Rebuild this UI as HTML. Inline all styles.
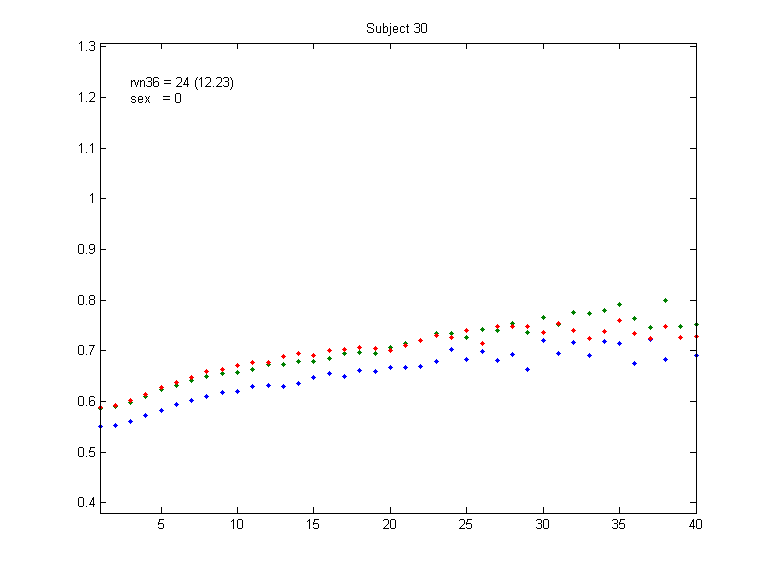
<!DOCTYPE html>
<html lang="en"><head><meta charset="utf-8"><title>Subject 30</title>
<style>
html,body{margin:0;padding:0;background:#fff;}
body{width:769px;height:576px;position:relative;overflow:hidden;font-family:"Liberation Sans",sans-serif;font-size:13px;line-height:16px;color:transparent;}
svg{position:absolute;left:0;top:0;display:block;}
.yl{position:absolute;left:40px;width:56px;text-align:right;height:16px;}
.xl{position:absolute;top:516px;width:41px;text-align:center;height:16px;}
.t{position:absolute;white-space:pre;height:16px;}
</style></head><body>
<svg width="769" height="576" viewBox="0 0 769 576" shape-rendering="crispEdges" aria-hidden="true">
<rect width="769" height="576" fill="#fff"/>
<path fill="#0000ff" d="M100 424h1v1h1v1h1v1h-1v1h-1v1h-1v-1h-1v-1h-1v-1h1v-1h1zM115 423h1v1h1v1h1v1h-1v1h-1v1h-1v-1h-1v-1h-1v-1h1v-1h1zM130 419h1v1h1v1h1v1h-1v1h-1v1h-1v-1h-1v-1h-1v-1h1v-1h1zM145 413h1v1h1v1h1v1h-1v1h-1v1h-1v-1h-1v-1h-1v-1h1v-1h1zM161 408h1v1h1v1h1v1h-1v1h-1v1h-1v-1h-1v-1h-1v-1h1v-1h1zM176 402h1v1h1v1h1v1h-1v1h-1v1h-1v-1h-1v-1h-1v-1h1v-1h1zM191 398h1v1h1v1h1v1h-1v1h-1v1h-1v-1h-1v-1h-1v-1h1v-1h1zM206 394h1v1h1v1h1v1h-1v1h-1v1h-1v-1h-1v-1h-1v-1h1v-1h1zM222 390h1v1h1v1h1v1h-1v1h-1v1h-1v-1h-1v-1h-1v-1h1v-1h1zM237 389h1v1h1v1h1v1h-1v1h-1v1h-1v-1h-1v-1h-1v-1h1v-1h1zM252 384h1v1h1v1h1v1h-1v1h-1v1h-1v-1h-1v-1h-1v-1h1v-1h1zM268 383h1v1h1v1h1v1h-1v1h-1v1h-1v-1h-1v-1h-1v-1h1v-1h1zM283 384h1v1h1v1h1v1h-1v1h-1v1h-1v-1h-1v-1h-1v-1h1v-1h1zM298 381h1v1h1v1h1v1h-1v1h-1v1h-1v-1h-1v-1h-1v-1h1v-1h1zM313 375h1v1h1v1h1v1h-1v1h-1v1h-1v-1h-1v-1h-1v-1h1v-1h1zM329 371h1v1h1v1h1v1h-1v1h-1v1h-1v-1h-1v-1h-1v-1h1v-1h1zM344 374h1v1h1v1h1v1h-1v1h-1v1h-1v-1h-1v-1h-1v-1h1v-1h1zM359 368h1v1h1v1h1v1h-1v1h-1v1h-1v-1h-1v-1h-1v-1h1v-1h1zM375 369h1v1h1v1h1v1h-1v1h-1v1h-1v-1h-1v-1h-1v-1h1v-1h1zM390 365h1v1h1v1h1v1h-1v1h-1v1h-1v-1h-1v-1h-1v-1h1v-1h1zM405 365h1v1h1v1h1v1h-1v1h-1v1h-1v-1h-1v-1h-1v-1h1v-1h1zM420 364h1v1h1v1h1v1h-1v1h-1v1h-1v-1h-1v-1h-1v-1h1v-1h1zM436 359h1v1h1v1h1v1h-1v1h-1v1h-1v-1h-1v-1h-1v-1h1v-1h1zM451 347h1v1h1v1h1v1h-1v1h-1v1h-1v-1h-1v-1h-1v-1h1v-1h1zM466 357h1v1h1v1h1v1h-1v1h-1v1h-1v-1h-1v-1h-1v-1h1v-1h1zM482 349h1v1h1v1h1v1h-1v1h-1v1h-1v-1h-1v-1h-1v-1h1v-1h1zM497 358h1v1h1v1h1v1h-1v1h-1v1h-1v-1h-1v-1h-1v-1h1v-1h1zM512 352h1v1h1v1h1v1h-1v1h-1v1h-1v-1h-1v-1h-1v-1h1v-1h1zM527 367h1v1h1v1h1v1h-1v1h-1v1h-1v-1h-1v-1h-1v-1h1v-1h1zM543 338h1v1h1v1h1v1h-1v1h-1v1h-1v-1h-1v-1h-1v-1h1v-1h1zM558 351h1v1h1v1h1v1h-1v1h-1v1h-1v-1h-1v-1h-1v-1h1v-1h1zM573 340h1v1h1v1h1v1h-1v1h-1v1h-1v-1h-1v-1h-1v-1h1v-1h1zM589 353h1v1h1v1h1v1h-1v1h-1v1h-1v-1h-1v-1h-1v-1h1v-1h1zM604 339h1v1h1v1h1v1h-1v1h-1v1h-1v-1h-1v-1h-1v-1h1v-1h1zM619 341h1v1h1v1h1v1h-1v1h-1v1h-1v-1h-1v-1h-1v-1h1v-1h1zM634 361h1v1h1v1h1v1h-1v1h-1v1h-1v-1h-1v-1h-1v-1h1v-1h1zM650 337h1v1h1v1h1v1h-1v1h-1v1h-1v-1h-1v-1h-1v-1h1v-1h1zM665 357h1v1h1v1h1v1h-1v1h-1v1h-1v-1h-1v-1h-1v-1h1v-1h1zM680 335h1v1h1v1h1v1h-1v1h-1v1h-1v-1h-1v-1h-1v-1h1v-1h1zM696 353h1v1h1v1h1v1h-1v1h-1v1h-1v-1h-1v-1h-1v-1h1v-1h1z"/>
<path fill="#008000" d="M100 406h1v1h1v1h1v1h-1v1h-1v1h-1v-1h-1v-1h-1v-1h1v-1h1zM115 404h1v1h1v1h1v1h-1v1h-1v1h-1v-1h-1v-1h-1v-1h1v-1h1zM130 400h1v1h1v1h1v1h-1v1h-1v1h-1v-1h-1v-1h-1v-1h1v-1h1zM145 394h1v1h1v1h1v1h-1v1h-1v1h-1v-1h-1v-1h-1v-1h1v-1h1zM161 387h1v1h1v1h1v1h-1v1h-1v1h-1v-1h-1v-1h-1v-1h1v-1h1zM176 383h1v1h1v1h1v1h-1v1h-1v1h-1v-1h-1v-1h-1v-1h1v-1h1zM191 378h1v1h1v1h1v1h-1v1h-1v1h-1v-1h-1v-1h-1v-1h1v-1h1zM206 374h1v1h1v1h1v1h-1v1h-1v1h-1v-1h-1v-1h-1v-1h1v-1h1zM222 371h1v1h1v1h1v1h-1v1h-1v1h-1v-1h-1v-1h-1v-1h1v-1h1zM237 370h1v1h1v1h1v1h-1v1h-1v1h-1v-1h-1v-1h-1v-1h1v-1h1zM252 367h1v1h1v1h1v1h-1v1h-1v1h-1v-1h-1v-1h-1v-1h1v-1h1zM268 362h1v1h1v1h1v1h-1v1h-1v1h-1v-1h-1v-1h-1v-1h1v-1h1zM283 362h1v1h1v1h1v1h-1v1h-1v1h-1v-1h-1v-1h-1v-1h1v-1h1zM298 359h1v1h1v1h1v1h-1v1h-1v1h-1v-1h-1v-1h-1v-1h1v-1h1zM313 359h1v1h1v1h1v1h-1v1h-1v1h-1v-1h-1v-1h-1v-1h1v-1h1zM329 356h1v1h1v1h1v1h-1v1h-1v1h-1v-1h-1v-1h-1v-1h1v-1h1zM344 351h1v1h1v1h1v1h-1v1h-1v1h-1v-1h-1v-1h-1v-1h1v-1h1zM359 350h1v1h1v1h1v1h-1v1h-1v1h-1v-1h-1v-1h-1v-1h1v-1h1zM375 351h1v1h1v1h1v1h-1v1h-1v1h-1v-1h-1v-1h-1v-1h1v-1h1zM390 345h1v1h1v1h1v1h-1v1h-1v1h-1v-1h-1v-1h-1v-1h1v-1h1zM405 341h1v1h1v1h1v1h-1v1h-1v1h-1v-1h-1v-1h-1v-1h1v-1h1zM420 338h1v1h1v1h1v1h-1v1h-1v1h-1v-1h-1v-1h-1v-1h1v-1h1zM436 331h1v1h1v1h1v1h-1v1h-1v1h-1v-1h-1v-1h-1v-1h1v-1h1zM451 331h1v1h1v1h1v1h-1v1h-1v1h-1v-1h-1v-1h-1v-1h1v-1h1zM466 335h1v1h1v1h1v1h-1v1h-1v1h-1v-1h-1v-1h-1v-1h1v-1h1zM482 327h1v1h1v1h1v1h-1v1h-1v1h-1v-1h-1v-1h-1v-1h1v-1h1zM497 328h1v1h1v1h1v1h-1v1h-1v1h-1v-1h-1v-1h-1v-1h1v-1h1zM512 321h1v1h1v1h1v1h-1v1h-1v1h-1v-1h-1v-1h-1v-1h1v-1h1zM527 330h1v1h1v1h1v1h-1v1h-1v1h-1v-1h-1v-1h-1v-1h1v-1h1zM543 315h1v1h1v1h1v1h-1v1h-1v1h-1v-1h-1v-1h-1v-1h1v-1h1zM558 322h1v1h1v1h1v1h-1v1h-1v1h-1v-1h-1v-1h-1v-1h1v-1h1zM573 310h1v1h1v1h1v1h-1v1h-1v1h-1v-1h-1v-1h-1v-1h1v-1h1zM589 311h1v1h1v1h1v1h-1v1h-1v1h-1v-1h-1v-1h-1v-1h1v-1h1zM604 308h1v1h1v1h1v1h-1v1h-1v1h-1v-1h-1v-1h-1v-1h1v-1h1zM619 302h1v1h1v1h1v1h-1v1h-1v1h-1v-1h-1v-1h-1v-1h1v-1h1zM634 316h1v1h1v1h1v1h-1v1h-1v1h-1v-1h-1v-1h-1v-1h1v-1h1zM650 325h1v1h1v1h1v1h-1v1h-1v1h-1v-1h-1v-1h-1v-1h1v-1h1zM665 298h1v1h1v1h1v1h-1v1h-1v1h-1v-1h-1v-1h-1v-1h1v-1h1zM680 324h1v1h1v1h1v1h-1v1h-1v1h-1v-1h-1v-1h-1v-1h1v-1h1zM696 322h1v1h1v1h1v1h-1v1h-1v1h-1v-1h-1v-1h-1v-1h1v-1h1z"/>
<path fill="#ff0000" d="M100 405h1v1h1v1h1v1h-1v1h-1v1h-1v-1h-1v-1h-1v-1h1v-1h1zM115 403h1v1h1v1h1v1h-1v1h-1v1h-1v-1h-1v-1h-1v-1h1v-1h1zM130 398h1v1h1v1h1v1h-1v1h-1v1h-1v-1h-1v-1h-1v-1h1v-1h1zM145 392h1v1h1v1h1v1h-1v1h-1v1h-1v-1h-1v-1h-1v-1h1v-1h1zM161 385h1v1h1v1h1v1h-1v1h-1v1h-1v-1h-1v-1h-1v-1h1v-1h1zM176 380h1v1h1v1h1v1h-1v1h-1v1h-1v-1h-1v-1h-1v-1h1v-1h1zM191 375h1v1h1v1h1v1h-1v1h-1v1h-1v-1h-1v-1h-1v-1h1v-1h1zM206 369h1v1h1v1h1v1h-1v1h-1v1h-1v-1h-1v-1h-1v-1h1v-1h1zM222 367h1v1h1v1h1v1h-1v1h-1v1h-1v-1h-1v-1h-1v-1h1v-1h1zM237 363h1v1h1v1h1v1h-1v1h-1v1h-1v-1h-1v-1h-1v-1h1v-1h1zM252 360h1v1h1v1h1v1h-1v1h-1v1h-1v-1h-1v-1h-1v-1h1v-1h1zM268 360h1v1h1v1h1v1h-1v1h-1v1h-1v-1h-1v-1h-1v-1h1v-1h1zM283 354h1v1h1v1h1v1h-1v1h-1v1h-1v-1h-1v-1h-1v-1h1v-1h1zM298 351h1v1h1v1h1v1h-1v1h-1v1h-1v-1h-1v-1h-1v-1h1v-1h1zM313 353h1v1h1v1h1v1h-1v1h-1v1h-1v-1h-1v-1h-1v-1h1v-1h1zM329 348h1v1h1v1h1v1h-1v1h-1v1h-1v-1h-1v-1h-1v-1h1v-1h1zM344 347h1v1h1v1h1v1h-1v1h-1v1h-1v-1h-1v-1h-1v-1h1v-1h1zM359 345h1v1h1v1h1v1h-1v1h-1v1h-1v-1h-1v-1h-1v-1h1v-1h1zM375 346h1v1h1v1h1v1h-1v1h-1v1h-1v-1h-1v-1h-1v-1h1v-1h1zM390 348h1v1h1v1h1v1h-1v1h-1v1h-1v-1h-1v-1h-1v-1h1v-1h1zM405 343h1v1h1v1h1v1h-1v1h-1v1h-1v-1h-1v-1h-1v-1h1v-1h1zM420 338h1v1h1v1h1v1h-1v1h-1v1h-1v-1h-1v-1h-1v-1h1v-1h1zM436 333h1v1h1v1h1v1h-1v1h-1v1h-1v-1h-1v-1h-1v-1h1v-1h1zM451 335h1v1h1v1h1v1h-1v1h-1v1h-1v-1h-1v-1h-1v-1h1v-1h1zM466 328h1v1h1v1h1v1h-1v1h-1v1h-1v-1h-1v-1h-1v-1h1v-1h1zM482 341h1v1h1v1h1v1h-1v1h-1v1h-1v-1h-1v-1h-1v-1h1v-1h1zM497 324h1v1h1v1h1v1h-1v1h-1v1h-1v-1h-1v-1h-1v-1h1v-1h1zM512 324h1v1h1v1h1v1h-1v1h-1v1h-1v-1h-1v-1h-1v-1h1v-1h1zM527 324h1v1h1v1h1v1h-1v1h-1v1h-1v-1h-1v-1h-1v-1h1v-1h1zM543 330h1v1h1v1h1v1h-1v1h-1v1h-1v-1h-1v-1h-1v-1h1v-1h1zM558 321h1v1h1v1h1v1h-1v1h-1v1h-1v-1h-1v-1h-1v-1h1v-1h1zM573 328h1v1h1v1h1v1h-1v1h-1v1h-1v-1h-1v-1h-1v-1h1v-1h1zM589 336h1v1h1v1h1v1h-1v1h-1v1h-1v-1h-1v-1h-1v-1h1v-1h1zM604 329h1v1h1v1h1v1h-1v1h-1v1h-1v-1h-1v-1h-1v-1h1v-1h1zM619 318h1v1h1v1h1v1h-1v1h-1v1h-1v-1h-1v-1h-1v-1h1v-1h1zM634 331h1v1h1v1h1v1h-1v1h-1v1h-1v-1h-1v-1h-1v-1h1v-1h1zM650 336h1v1h1v1h1v1h-1v1h-1v1h-1v-1h-1v-1h-1v-1h1v-1h1zM665 324h1v1h1v1h1v1h-1v1h-1v1h-1v-1h-1v-1h-1v-1h1v-1h1zM680 335h1v1h1v1h1v1h-1v1h-1v1h-1v-1h-1v-1h-1v-1h1v-1h1zM696 334h1v1h1v1h1v1h-1v1h-1v1h-1v-1h-1v-1h-1v-1h1v-1h1z"/>
<path fill="#000" d="M100 43h597v1h-597zM100 513h597v1h-597zM100 43h1v471h-1zM696 43h1v471h-1zM101 46h5v1h-5zM690 46h6v1h-6zM101 97h5v1h-5zM690 97h6v1h-6zM101 148h5v1h-5zM690 148h6v1h-6zM101 198h5v1h-5zM690 198h6v1h-6zM101 249h5v1h-5zM690 249h6v1h-6zM101 300h5v1h-5zM690 300h6v1h-6zM101 350h5v1h-5zM690 350h6v1h-6zM101 401h5v1h-5zM690 401h6v1h-6zM101 452h5v1h-5zM690 452h6v1h-6zM101 502h5v1h-5zM690 502h6v1h-6zM161 507h1v6h-1zM161 44h1v5h-1zM237 507h1v6h-1zM237 44h1v5h-1zM313 507h1v6h-1zM313 44h1v5h-1zM390 507h1v6h-1zM390 44h1v5h-1zM466 507h1v6h-1zM466 44h1v5h-1zM543 507h1v6h-1zM543 44h1v5h-1zM619 507h1v6h-1zM619 44h1v5h-1z"/>
<path fill="#000" d="M368 23h5v1h-5zM367 24h1v1h-1zM373 24h1v1h-1zM367 25h1v1h-1zM373 25h1v1h-1zM367 26h1v1h-1zM368 27h3v1h-3zM371 28h2v1h-2zM373 29h1v1h-1zM367 30h1v1h-1zM373 30h1v1h-1zM367 31h1v1h-1zM373 31h1v1h-1zM368 32h5v1h-5zM376 26h1v1h-1zM380 26h1v1h-1zM376 27h1v1h-1zM380 27h1v1h-1zM376 28h1v1h-1zM380 28h1v1h-1zM376 29h1v1h-1zM380 29h1v1h-1zM376 30h1v1h-1zM380 30h1v1h-1zM376 31h1v1h-1zM380 31h1v1h-1zM377 32h4v1h-4zM383 23h1v1h-1zM383 24h1v1h-1zM383 25h1v1h-1zM383 26h1v1h-1zM385 26h2v1h-2zM383 27h2v1h-2zM387 27h1v1h-1zM383 28h1v1h-1zM387 28h1v1h-1zM383 29h1v1h-1zM387 29h1v1h-1zM383 30h1v1h-1zM387 30h1v1h-1zM383 31h1v1h-1zM387 31h1v1h-1zM383 32h4v1h-4zM390 23h1v1h-1zM390 26h1v1h-1zM390 27h1v1h-1zM390 28h1v1h-1zM390 29h1v1h-1zM390 30h1v1h-1zM390 31h1v1h-1zM390 32h1v1h-1zM390 33h1v1h-1zM390 34h1v1h-1zM388 35h2v1h-2zM394 26h3v1h-3zM393 27h1v1h-1zM397 27h1v1h-1zM393 28h1v1h-1zM397 28h1v1h-1zM393 29h5v1h-5zM393 30h1v1h-1zM393 31h1v1h-1zM397 31h1v1h-1zM394 32h3v1h-3zM401 26h3v1h-3zM400 27h1v1h-1zM404 27h1v1h-1zM400 28h1v1h-1zM400 29h1v1h-1zM400 30h1v1h-1zM400 31h1v1h-1zM404 31h1v1h-1zM401 32h3v1h-3zM407 24h1v1h-1zM407 25h1v1h-1zM406 26h3v1h-3zM407 27h1v1h-1zM407 28h1v1h-1zM407 29h1v1h-1zM407 30h1v1h-1zM407 31h1v1h-1zM407 32h2v1h-2zM415 23h4v1h-4zM414 24h1v1h-1zM419 24h1v1h-1zM419 25h1v1h-1zM419 26h1v1h-1zM416 27h3v1h-3zM419 28h1v1h-1zM419 29h1v1h-1zM419 30h1v1h-1zM414 31h1v1h-1zM419 31h1v1h-1zM415 32h4v1h-4zM422 23h4v1h-4zM421 24h1v1h-1zM426 24h1v1h-1zM421 25h1v1h-1zM426 25h1v1h-1zM421 26h1v1h-1zM426 26h1v1h-1zM421 27h1v1h-1zM426 27h1v1h-1zM421 28h1v1h-1zM426 28h1v1h-1zM421 29h1v1h-1zM426 29h1v1h-1zM421 30h1v1h-1zM426 30h1v1h-1zM421 31h1v1h-1zM426 31h1v1h-1zM422 32h4v1h-4zM131 80h1v1h-1zM133 80h1v1h-1zM131 81h2v1h-2zM131 82h1v1h-1zM131 83h1v1h-1zM131 84h1v1h-1zM131 85h1v1h-1zM131 86h1v1h-1zM134 80h1v1h-1zM138 80h1v1h-1zM134 81h1v1h-1zM138 81h1v1h-1zM135 82h1v1h-1zM137 82h1v1h-1zM135 83h1v1h-1zM137 83h1v1h-1zM135 84h1v1h-1zM137 84h1v1h-1zM136 85h1v1h-1zM136 86h1v1h-1zM140 80h1v1h-1zM142 80h2v1h-2zM140 81h2v1h-2zM144 81h1v1h-1zM140 82h1v1h-1zM144 82h1v1h-1zM140 83h1v1h-1zM144 83h1v1h-1zM140 84h1v1h-1zM144 84h1v1h-1zM140 85h1v1h-1zM144 85h1v1h-1zM140 86h1v1h-1zM144 86h1v1h-1zM147 77h4v1h-4zM146 78h1v1h-1zM151 78h1v1h-1zM151 79h1v1h-1zM151 80h1v1h-1zM148 81h3v1h-3zM151 82h1v1h-1zM151 83h1v1h-1zM151 84h1v1h-1zM146 85h1v1h-1zM151 85h1v1h-1zM147 86h4v1h-4zM154 77h4v1h-4zM153 78h1v1h-1zM158 78h1v1h-1zM153 79h1v1h-1zM153 80h1v1h-1zM153 81h1v1h-1zM155 81h3v1h-3zM153 82h2v1h-2zM158 82h1v1h-1zM153 83h1v1h-1zM158 83h1v1h-1zM153 84h1v1h-1zM158 84h1v1h-1zM153 85h1v1h-1zM158 85h1v1h-1zM154 86h4v1h-4zM164 80h7v1h-7zM164 83h7v1h-7zM177 77h4v1h-4zM176 78h1v1h-1zM181 78h1v1h-1zM181 79h1v1h-1zM181 80h1v1h-1zM181 81h1v1h-1zM180 82h1v1h-1zM179 83h1v1h-1zM178 84h1v1h-1zM177 85h1v1h-1zM176 86h6v1h-6zM187 77h1v1h-1zM186 78h2v1h-2zM186 79h2v1h-2zM185 80h1v1h-1zM187 80h1v1h-1zM185 81h1v1h-1zM187 81h1v1h-1zM184 82h1v1h-1zM187 82h1v1h-1zM184 83h1v1h-1zM187 83h1v1h-1zM183 84h6v1h-6zM187 85h1v1h-1zM187 86h1v1h-1zM197 77h1v1h-1zM196 78h1v1h-1zM196 79h1v1h-1zM195 80h1v1h-1zM195 81h1v1h-1zM195 82h1v1h-1zM195 83h1v1h-1zM195 84h1v1h-1zM195 85h1v1h-1zM195 86h1v1h-1zM196 87h1v1h-1zM196 88h1v1h-1zM197 89h1v1h-1zM201 77h1v1h-1zM200 78h2v1h-2zM199 79h1v1h-1zM201 79h1v1h-1zM201 80h1v1h-1zM201 81h1v1h-1zM201 82h1v1h-1zM201 83h1v1h-1zM201 84h1v1h-1zM201 85h1v1h-1zM201 86h1v1h-1zM206 77h4v1h-4zM205 78h1v1h-1zM210 78h1v1h-1zM210 79h1v1h-1zM210 80h1v1h-1zM210 81h1v1h-1zM209 82h1v1h-1zM208 83h1v1h-1zM207 84h1v1h-1zM206 85h1v1h-1zM205 86h6v1h-6zM213 86h1v1h-1zM217 77h4v1h-4zM216 78h1v1h-1zM221 78h1v1h-1zM221 79h1v1h-1zM221 80h1v1h-1zM221 81h1v1h-1zM220 82h1v1h-1zM219 83h1v1h-1zM218 84h1v1h-1zM217 85h1v1h-1zM216 86h6v1h-6zM224 77h4v1h-4zM223 78h1v1h-1zM228 78h1v1h-1zM228 79h1v1h-1zM228 80h1v1h-1zM225 81h3v1h-3zM228 82h1v1h-1zM228 83h1v1h-1zM228 84h1v1h-1zM223 85h1v1h-1zM228 85h1v1h-1zM224 86h4v1h-4zM230 77h1v1h-1zM231 78h1v1h-1zM231 79h1v1h-1zM232 80h1v1h-1zM232 81h1v1h-1zM232 82h1v1h-1zM232 83h1v1h-1zM232 84h1v1h-1zM232 85h1v1h-1zM232 86h1v1h-1zM231 87h1v1h-1zM231 88h1v1h-1zM230 89h1v1h-1zM132 96h3v1h-3zM131 97h1v1h-1zM135 97h1v1h-1zM131 98h1v1h-1zM132 99h3v1h-3zM135 100h1v1h-1zM131 101h1v1h-1zM135 101h1v1h-1zM132 102h3v1h-3zM139 96h3v1h-3zM138 97h1v1h-1zM142 97h1v1h-1zM138 98h1v1h-1zM142 98h1v1h-1zM138 99h5v1h-5zM138 100h1v1h-1zM138 101h1v1h-1zM142 101h1v1h-1zM139 102h3v1h-3zM145 96h1v1h-1zM149 96h1v1h-1zM146 97h1v1h-1zM148 97h1v1h-1zM146 98h1v1h-1zM148 98h1v1h-1zM147 99h1v1h-1zM146 100h1v1h-1zM148 100h1v1h-1zM146 101h1v1h-1zM148 101h1v1h-1zM145 102h1v1h-1zM149 102h1v1h-1zM163 96h7v1h-7zM163 99h7v1h-7zM176 93h4v1h-4zM175 94h1v1h-1zM180 94h1v1h-1zM175 95h1v1h-1zM180 95h1v1h-1zM175 96h1v1h-1zM180 96h1v1h-1zM175 97h1v1h-1zM180 97h1v1h-1zM175 98h1v1h-1zM180 98h1v1h-1zM175 99h1v1h-1zM180 99h1v1h-1zM175 100h1v1h-1zM180 100h1v1h-1zM175 101h1v1h-1zM180 101h1v1h-1zM176 102h4v1h-4zM81 41h1v1h-1zM80 42h2v1h-2zM79 43h1v1h-1zM81 43h1v1h-1zM81 44h1v1h-1zM81 45h1v1h-1zM81 46h1v1h-1zM81 47h1v1h-1zM81 48h1v1h-1zM81 49h1v1h-1zM81 50h1v1h-1zM86 50h1v1h-1zM90 41h4v1h-4zM89 42h1v1h-1zM94 42h1v1h-1zM94 43h1v1h-1zM94 44h1v1h-1zM91 45h3v1h-3zM94 46h1v1h-1zM94 47h1v1h-1zM94 48h1v1h-1zM89 49h1v1h-1zM94 49h1v1h-1zM90 50h4v1h-4zM81 92h1v1h-1zM80 93h2v1h-2zM79 94h1v1h-1zM81 94h1v1h-1zM81 95h1v1h-1zM81 96h1v1h-1zM81 97h1v1h-1zM81 98h1v1h-1zM81 99h1v1h-1zM81 100h1v1h-1zM81 101h1v1h-1zM86 101h1v1h-1zM90 92h4v1h-4zM89 93h1v1h-1zM94 93h1v1h-1zM94 94h1v1h-1zM94 95h1v1h-1zM94 96h1v1h-1zM93 97h1v1h-1zM92 98h1v1h-1zM91 99h1v1h-1zM90 100h1v1h-1zM89 101h6v1h-6zM81 143h1v1h-1zM80 144h2v1h-2zM79 145h1v1h-1zM81 145h1v1h-1zM81 146h1v1h-1zM81 147h1v1h-1zM81 148h1v1h-1zM81 149h1v1h-1zM81 150h1v1h-1zM81 151h1v1h-1zM81 152h1v1h-1zM86 152h1v1h-1zM92 143h1v1h-1zM91 144h2v1h-2zM90 145h1v1h-1zM92 145h1v1h-1zM92 146h1v1h-1zM92 147h1v1h-1zM92 148h1v1h-1zM92 149h1v1h-1zM92 150h1v1h-1zM92 151h1v1h-1zM92 152h1v1h-1zM92 193h1v1h-1zM91 194h2v1h-2zM90 195h1v1h-1zM92 195h1v1h-1zM92 196h1v1h-1zM92 197h1v1h-1zM92 198h1v1h-1zM92 199h1v1h-1zM92 200h1v1h-1zM92 201h1v1h-1zM92 202h1v1h-1zM79 244h4v1h-4zM78 245h1v1h-1zM83 245h1v1h-1zM78 246h1v1h-1zM83 246h1v1h-1zM78 247h1v1h-1zM83 247h1v1h-1zM78 248h1v1h-1zM83 248h1v1h-1zM78 249h1v1h-1zM83 249h1v1h-1zM78 250h1v1h-1zM83 250h1v1h-1zM78 251h1v1h-1zM83 251h1v1h-1zM78 252h1v1h-1zM83 252h1v1h-1zM79 253h4v1h-4zM86 253h1v1h-1zM90 244h4v1h-4zM89 245h1v1h-1zM94 245h1v1h-1zM89 246h1v1h-1zM94 246h1v1h-1zM89 247h1v1h-1zM94 247h1v1h-1zM89 248h1v1h-1zM93 248h2v1h-2zM90 249h3v1h-3zM94 249h1v1h-1zM94 250h1v1h-1zM94 251h1v1h-1zM89 252h1v1h-1zM93 252h1v1h-1zM90 253h3v1h-3zM79 295h4v1h-4zM78 296h1v1h-1zM83 296h1v1h-1zM78 297h1v1h-1zM83 297h1v1h-1zM78 298h1v1h-1zM83 298h1v1h-1zM78 299h1v1h-1zM83 299h1v1h-1zM78 300h1v1h-1zM83 300h1v1h-1zM78 301h1v1h-1zM83 301h1v1h-1zM78 302h1v1h-1zM83 302h1v1h-1zM78 303h1v1h-1zM83 303h1v1h-1zM79 304h4v1h-4zM86 304h1v1h-1zM90 295h4v1h-4zM89 296h1v1h-1zM94 296h1v1h-1zM89 297h1v1h-1zM94 297h1v1h-1zM89 298h1v1h-1zM94 298h1v1h-1zM90 299h4v1h-4zM89 300h1v1h-1zM94 300h1v1h-1zM89 301h1v1h-1zM94 301h1v1h-1zM89 302h1v1h-1zM94 302h1v1h-1zM89 303h1v1h-1zM94 303h1v1h-1zM90 304h4v1h-4zM79 345h4v1h-4zM78 346h1v1h-1zM83 346h1v1h-1zM78 347h1v1h-1zM83 347h1v1h-1zM78 348h1v1h-1zM83 348h1v1h-1zM78 349h1v1h-1zM83 349h1v1h-1zM78 350h1v1h-1zM83 350h1v1h-1zM78 351h1v1h-1zM83 351h1v1h-1zM78 352h1v1h-1zM83 352h1v1h-1zM78 353h1v1h-1zM83 353h1v1h-1zM79 354h4v1h-4zM86 354h1v1h-1zM89 345h6v1h-6zM93 346h1v1h-1zM93 347h1v1h-1zM92 348h1v1h-1zM92 349h1v1h-1zM91 350h1v1h-1zM91 351h1v1h-1zM90 352h1v1h-1zM90 353h1v1h-1zM90 354h1v1h-1zM79 396h4v1h-4zM78 397h1v1h-1zM83 397h1v1h-1zM78 398h1v1h-1zM83 398h1v1h-1zM78 399h1v1h-1zM83 399h1v1h-1zM78 400h1v1h-1zM83 400h1v1h-1zM78 401h1v1h-1zM83 401h1v1h-1zM78 402h1v1h-1zM83 402h1v1h-1zM78 403h1v1h-1zM83 403h1v1h-1zM78 404h1v1h-1zM83 404h1v1h-1zM79 405h4v1h-4zM86 405h1v1h-1zM90 396h4v1h-4zM89 397h1v1h-1zM94 397h1v1h-1zM89 398h1v1h-1zM89 399h1v1h-1zM89 400h1v1h-1zM91 400h3v1h-3zM89 401h2v1h-2zM94 401h1v1h-1zM89 402h1v1h-1zM94 402h1v1h-1zM89 403h1v1h-1zM94 403h1v1h-1zM89 404h1v1h-1zM94 404h1v1h-1zM90 405h4v1h-4zM79 447h4v1h-4zM78 448h1v1h-1zM83 448h1v1h-1zM78 449h1v1h-1zM83 449h1v1h-1zM78 450h1v1h-1zM83 450h1v1h-1zM78 451h1v1h-1zM83 451h1v1h-1zM78 452h1v1h-1zM83 452h1v1h-1zM78 453h1v1h-1zM83 453h1v1h-1zM78 454h1v1h-1zM83 454h1v1h-1zM78 455h1v1h-1zM83 455h1v1h-1zM79 456h4v1h-4zM86 456h1v1h-1zM90 447h5v1h-5zM90 448h1v1h-1zM90 449h1v1h-1zM89 450h1v1h-1zM89 451h5v1h-5zM89 452h1v1h-1zM94 452h1v1h-1zM94 453h1v1h-1zM94 454h1v1h-1zM89 455h1v1h-1zM94 455h1v1h-1zM90 456h4v1h-4zM79 497h4v1h-4zM78 498h1v1h-1zM83 498h1v1h-1zM78 499h1v1h-1zM83 499h1v1h-1zM78 500h1v1h-1zM83 500h1v1h-1zM78 501h1v1h-1zM83 501h1v1h-1zM78 502h1v1h-1zM83 502h1v1h-1zM78 503h1v1h-1zM83 503h1v1h-1zM78 504h1v1h-1zM83 504h1v1h-1zM78 505h1v1h-1zM83 505h1v1h-1zM79 506h4v1h-4zM86 506h1v1h-1zM93 497h1v1h-1zM92 498h2v1h-2zM92 499h2v1h-2zM91 500h1v1h-1zM93 500h1v1h-1zM91 501h1v1h-1zM93 501h1v1h-1zM90 502h1v1h-1zM93 502h1v1h-1zM90 503h1v1h-1zM93 503h1v1h-1zM89 504h6v1h-6zM93 505h1v1h-1zM93 506h1v1h-1zM159 519h5v1h-5zM159 520h1v1h-1zM159 521h1v1h-1zM158 522h1v1h-1zM158 523h5v1h-5zM158 524h1v1h-1zM163 524h1v1h-1zM163 525h1v1h-1zM163 526h1v1h-1zM158 527h1v1h-1zM163 527h1v1h-1zM159 528h4v1h-4zM233 519h1v1h-1zM232 520h2v1h-2zM231 521h1v1h-1zM233 521h1v1h-1zM233 522h1v1h-1zM233 523h1v1h-1zM233 524h1v1h-1zM233 525h1v1h-1zM233 526h1v1h-1zM233 527h1v1h-1zM233 528h1v1h-1zM238 519h4v1h-4zM237 520h1v1h-1zM242 520h1v1h-1zM237 521h1v1h-1zM242 521h1v1h-1zM237 522h1v1h-1zM242 522h1v1h-1zM237 523h1v1h-1zM242 523h1v1h-1zM237 524h1v1h-1zM242 524h1v1h-1zM237 525h1v1h-1zM242 525h1v1h-1zM237 526h1v1h-1zM242 526h1v1h-1zM237 527h1v1h-1zM242 527h1v1h-1zM238 528h4v1h-4zM309 519h1v1h-1zM308 520h2v1h-2zM307 521h1v1h-1zM309 521h1v1h-1zM309 522h1v1h-1zM309 523h1v1h-1zM309 524h1v1h-1zM309 525h1v1h-1zM309 526h1v1h-1zM309 527h1v1h-1zM309 528h1v1h-1zM314 519h5v1h-5zM314 520h1v1h-1zM314 521h1v1h-1zM313 522h1v1h-1zM313 523h5v1h-5zM313 524h1v1h-1zM318 524h1v1h-1zM318 525h1v1h-1zM318 526h1v1h-1zM313 527h1v1h-1zM318 527h1v1h-1zM314 528h4v1h-4zM384 519h4v1h-4zM383 520h1v1h-1zM388 520h1v1h-1zM388 521h1v1h-1zM388 522h1v1h-1zM388 523h1v1h-1zM387 524h1v1h-1zM386 525h1v1h-1zM385 526h1v1h-1zM384 527h1v1h-1zM383 528h6v1h-6zM391 519h4v1h-4zM390 520h1v1h-1zM395 520h1v1h-1zM390 521h1v1h-1zM395 521h1v1h-1zM390 522h1v1h-1zM395 522h1v1h-1zM390 523h1v1h-1zM395 523h1v1h-1zM390 524h1v1h-1zM395 524h1v1h-1zM390 525h1v1h-1zM395 525h1v1h-1zM390 526h1v1h-1zM395 526h1v1h-1zM390 527h1v1h-1zM395 527h1v1h-1zM391 528h4v1h-4zM460 519h4v1h-4zM459 520h1v1h-1zM464 520h1v1h-1zM464 521h1v1h-1zM464 522h1v1h-1zM464 523h1v1h-1zM463 524h1v1h-1zM462 525h1v1h-1zM461 526h1v1h-1zM460 527h1v1h-1zM459 528h6v1h-6zM467 519h5v1h-5zM467 520h1v1h-1zM467 521h1v1h-1zM466 522h1v1h-1zM466 523h5v1h-5zM466 524h1v1h-1zM471 524h1v1h-1zM471 525h1v1h-1zM471 526h1v1h-1zM466 527h1v1h-1zM471 527h1v1h-1zM467 528h4v1h-4zM537 519h4v1h-4zM536 520h1v1h-1zM541 520h1v1h-1zM541 521h1v1h-1zM541 522h1v1h-1zM538 523h3v1h-3zM541 524h1v1h-1zM541 525h1v1h-1zM541 526h1v1h-1zM536 527h1v1h-1zM541 527h1v1h-1zM537 528h4v1h-4zM544 519h4v1h-4zM543 520h1v1h-1zM548 520h1v1h-1zM543 521h1v1h-1zM548 521h1v1h-1zM543 522h1v1h-1zM548 522h1v1h-1zM543 523h1v1h-1zM548 523h1v1h-1zM543 524h1v1h-1zM548 524h1v1h-1zM543 525h1v1h-1zM548 525h1v1h-1zM543 526h1v1h-1zM548 526h1v1h-1zM543 527h1v1h-1zM548 527h1v1h-1zM544 528h4v1h-4zM613 519h4v1h-4zM612 520h1v1h-1zM617 520h1v1h-1zM617 521h1v1h-1zM617 522h1v1h-1zM614 523h3v1h-3zM617 524h1v1h-1zM617 525h1v1h-1zM617 526h1v1h-1zM612 527h1v1h-1zM617 527h1v1h-1zM613 528h4v1h-4zM620 519h5v1h-5zM620 520h1v1h-1zM620 521h1v1h-1zM619 522h1v1h-1zM619 523h5v1h-5zM619 524h1v1h-1zM624 524h1v1h-1zM624 525h1v1h-1zM624 526h1v1h-1zM619 527h1v1h-1zM624 527h1v1h-1zM620 528h4v1h-4zM693 519h1v1h-1zM692 520h2v1h-2zM692 521h2v1h-2zM691 522h1v1h-1zM693 522h1v1h-1zM691 523h1v1h-1zM693 523h1v1h-1zM690 524h1v1h-1zM693 524h1v1h-1zM690 525h1v1h-1zM693 525h1v1h-1zM689 526h6v1h-6zM693 527h1v1h-1zM693 528h1v1h-1zM697 519h4v1h-4zM696 520h1v1h-1zM701 520h1v1h-1zM696 521h1v1h-1zM701 521h1v1h-1zM696 522h1v1h-1zM701 522h1v1h-1zM696 523h1v1h-1zM701 523h1v1h-1zM696 524h1v1h-1zM701 524h1v1h-1zM696 525h1v1h-1zM701 525h1v1h-1zM696 526h1v1h-1zM701 526h1v1h-1zM696 527h1v1h-1zM701 527h1v1h-1zM697 528h4v1h-4z"/>
</svg>
<div class="t" style="left:366px;top:20px">Subject 30</div>
<div class="t" style="left:130px;top:74px">rvn36 = 24 (12.23)</div>
<div class="t" style="left:130px;top:90px">sex   = 0</div>
<div class="yl" style="top:38px">1.3</div>
<div class="yl" style="top:89px">1.2</div>
<div class="yl" style="top:140px">1.1</div>
<div class="yl" style="top:190px">1</div>
<div class="yl" style="top:241px">0.9</div>
<div class="yl" style="top:292px">0.8</div>
<div class="yl" style="top:342px">0.7</div>
<div class="yl" style="top:393px">0.6</div>
<div class="yl" style="top:444px">0.5</div>
<div class="yl" style="top:494px">0.4</div>
<div class="xl" style="left:141px">5</div>
<div class="xl" style="left:217px">10</div>
<div class="xl" style="left:293px">15</div>
<div class="xl" style="left:370px">20</div>
<div class="xl" style="left:446px">25</div>
<div class="xl" style="left:523px">30</div>
<div class="xl" style="left:599px">35</div>
<div class="xl" style="left:676px">40</div>
</body></html>
